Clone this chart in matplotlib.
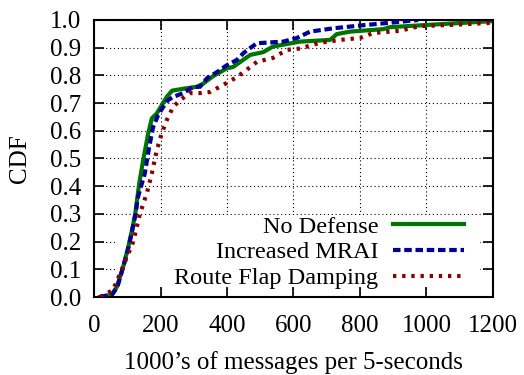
from matplotlib import pyplot as plt
from matplotlib.patches import Rectangle
import numpy as np

# CDF curves (x: 1000's of messages, y: CDF)
no_def_x = [18, 53, 69, 88, 103, 114, 124, 136, 148, 163, 174, 189, 204, 219, 235,
            280, 310, 328, 358, 400, 418, 470, 509, 538, 620, 710, 730, 770, 870,
            890, 1000, 1100, 1200]
no_def_y = [0.0, 0.008, 0.037, 0.11, 0.18, 0.24, 0.30, 0.41, 0.495, 0.59, 0.645,
            0.663, 0.693, 0.723, 0.745, 0.754, 0.759, 0.77, 0.797, 0.826, 0.83,
            0.874, 0.884, 0.904, 0.922, 0.928, 0.949, 0.958, 0.967, 0.974, 0.982,
            0.989, 0.996]

mrai_x = [18, 55, 70, 88, 104, 115, 125, 132, 153, 166, 178, 193, 208, 223, 238,
          268, 298, 319, 340, 370, 400, 430, 449, 470, 490, 569, 610, 650, 720,
          800, 890, 975]
mrai_y = [0.0, 0.01, 0.035, 0.11, 0.18, 0.24, 0.30, 0.36, 0.447, 0.542, 0.614,
          0.657, 0.686, 0.711, 0.722, 0.736, 0.758, 0.759, 0.79, 0.812, 0.837,
          0.856, 0.88, 0.899, 0.916, 0.922, 0.935, 0.958, 0.97, 0.98, 0.99, 1.0]

rfd_x = [18, 57, 84, 118, 138, 159, 174, 189, 204, 219, 238, 259, 289, 319, 349,
         388, 430, 470, 490, 538, 580, 620, 680, 740, 800, 840, 920, 980, 1071,
         1200]
rfd_y = [0.0, 0.025, 0.1, 0.2, 0.30, 0.375, 0.447, 0.531, 0.592, 0.639, 0.686,
         0.711, 0.736, 0.736, 0.74, 0.765, 0.794, 0.83, 0.849, 0.863, 0.892,
         0.897, 0.918, 0.928, 0.935, 0.953, 0.961, 0.978, 0.982, 0.99]

xticks = np.arange(0, 1201, 200)
yticks = np.arange(0, 1.01, 0.1)

plt.rcParams['font.family'] = ['Liberation Serif', 'DejaVu Serif']
plt.rcParams['font.size'] = 18

fig = plt.figure(figsize=(5.24, 3.75), dpi=100)
ax = fig.add_axes([0.1794, 0.208, 0.7614, 0.7387])

ax.set_axisbelow(True)
ax.grid(True, color='black', linestyle=(0, (1, 2.5)), linewidth=0.8)

# blank area behind the key, like gnuplot does
ax.add_patch(Rectangle((63, 0.037), 1097, 0.259, facecolor='white',
                       edgecolor='none', zorder=1))

ax.plot(no_def_x, no_def_y, color='#007400', lw=3, label='No Defense', zorder=2)
ax.plot(mrai_x, mrai_y, color='#000098', lw=3, linestyle=(0, (1.8, 0.9)),
        label='Increased MRAI', zorder=3)
ax.plot(rfd_x, rfd_y, color='#8b0000', lw=3, linestyle=(0, (0.8, 1.4)),
        label='Route Flap Damping', zorder=4)

ax.set_xlim(0, 1200)
ax.set_ylim(0, 1.0)
ax.set_xticks(xticks)
ax.set_yticks(yticks)
ax.set_yticklabels(['%.1f' % v for v in yticks])
ax.tick_params(direction='in', length=7, width=1.2, top=True, right=True)
ax.tick_params(axis='x', pad=13)
ax.tick_params(axis='y', pad=9)
for s in ax.spines.values():
    s.set_linewidth(1.5)

ax.set_xlabel("1000\u2019s of messages per 5-seconds", labelpad=10)
ax.set_ylabel('CDF', labelpad=14)

ax.legend(loc='lower right', bbox_to_anchor=(0.963, -0.025), frameon=False,
          markerfirst=False, handlelength=2.9, handletextpad=0.6,
          labelspacing=0.16, borderaxespad=0.2, fontsize=17.5)

plt.savefig('out.png', dpi=100)
